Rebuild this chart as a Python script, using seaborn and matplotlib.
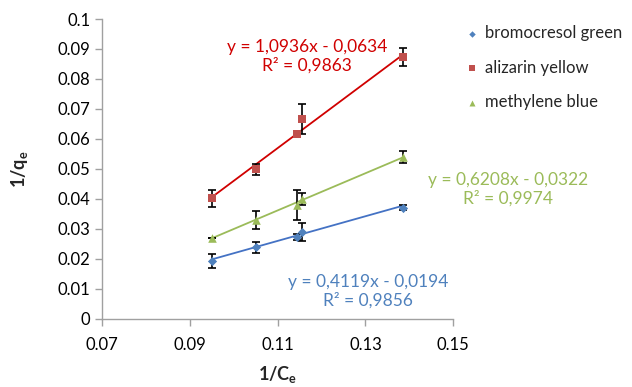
import numpy as np
import pandas as pd
import matplotlib
matplotlib.use("Agg")
import matplotlib.pyplot as plt
import seaborn as sns

# ---- data ----
series = ["bromocresol green", "alizarin yellow", "methylene blue"]
x_vals = [0.095, 0.105, 0.1143, 0.1155, 0.1386]
y_bromocresol = [0.0192, 0.0238, 0.0272, 0.0289, 0.0370]
y_alizarin = [0.0401, 0.0498, 0.0615, 0.0665, 0.0874]
y_methylene = [0.0269, 0.0328, 0.0379, 0.0398, 0.0540]
err_bromocresol = [0.0023, 0.0019, 0.0010, 0.0030, 0.0008]
err_alizarin = [0.0029, 0.0019, 0.0008, 0.0050, 0.0030]
err_methylene = [0.0, 0.0030, 0.0050, 0.0020, 0.0020]
slopes = [0.4119, 1.0936, 0.6208]
intercepts = [-0.0194, -0.0634, -0.0322]
eq_texts = ["y = 0,4119x - 0,0194\nR² = 0,9856",
            "y = 1,0936x - 0,0634\nR² = 0,9863",
            "y = 0,6208x - 0,0322\nR² = 0,9974"]
x_ticks = [0.07, 0.09, 0.11, 0.13, 0.15]
y_ticks = [0, 0.01, 0.02, 0.03, 0.04, 0.05, 0.06, 0.07, 0.08, 0.09, 0.1]

marker_colors = ["#4F81BD", "#C0504D", "#9BBB59"]
line_colors = ["#4472C4", "#D00000", "#9BBB59"]
text_colors = ["#4F81BD", "#D00000", "#9BBB59"]
markers = ["D", "s", "^"]
msizes = [22, 40, 38]

sns.set_style("white")
plt.rcParams['font.family'] = ['Lato', 'DejaVu Sans']

df = pd.DataFrame({
    "x": x_vals * 3,
    "y": y_bromocresol + y_alizarin + y_methylene,
    "err": err_bromocresol + err_alizarin + err_methylene,
    "series": sum([[s] * len(x_vals) for s in series], []),
})

fig = plt.figure(figsize=(6.32, 3.87), dpi=100)
ax = fig.add_axes([102 / 632, 1 - 318.5 / 387, (453.3 - 102) / 632, (318.5 - 19) / 387])

# trendlines
for i, s in enumerate(series):
    xs = np.array([min(x_vals), max(x_vals)])
    line_df = pd.DataFrame({"x": xs, "y": slopes[i] * xs + intercepts[i]})
    sns.lineplot(data=line_df, x="x", y="y", ax=ax, color=line_colors[i], lw=1.3, zorder=2, legend=False)

# error bars
for i, s in enumerate(series):
    sub = df[df.series == s]
    ax.errorbar(sub.x, sub.y, yerr=sub.err, fmt="none", ecolor="black", elinewidth=1.2,
                capsize=3, capthick=1.2, zorder=3)

# markers
for i, s in enumerate(series):
    sub = df[df.series == s]
    sns.scatterplot(data=sub, x="x", y="y", ax=ax, marker=markers[i], s=msizes[i],
                    color=marker_colors[i], edgecolor=marker_colors[i], linewidth=0, zorder=4,
                    label=s)

ax.set_xlim(0.07, 0.15)
ax.set_ylim(0, 0.1)
ax.set_xticks(x_ticks)
ax.set_xticklabels([f"{t:g}" for t in x_ticks])
ax.set_yticks(y_ticks)
ax.set_yticklabels([f"{t:g}" for t in y_ticks])
for sp in ["top", "right"]:
    ax.spines[sp].set_visible(False)
for sp in ["left", "bottom"]:
    ax.spines[sp].set_color("#A0A0A0")
    ax.spines[sp].set_linewidth(1.0)
ax.tick_params(axis="both", which="both", direction="out", length=5, width=1.0,
               color="#A0A0A0", labelsize=12, labelcolor="black", left=True, bottom=True)
ax.tick_params(axis="x", pad=8)
ax.set_xlabel("1/C$_\\mathregular{e}$", fontsize=13, fontweight="bold", labelpad=8)
ax.set_ylabel("1/q$_\\mathregular{e}$", fontsize=13, fontweight="bold", labelpad=20)

# equations
eq_pos = [(368, 291), (307, 56), (508, 189)]
for i in range(3):
    fig.text(eq_pos[i][0] / 632, 1 - eq_pos[i][1] / 387, eq_texts[i], color=text_colors[i],
             fontsize=12.5, ha="center", va="center", linespacing=1.15)

leg = ax.legend(loc="upper left", bbox_to_anchor=(459 / 632, 1 - 17 / 387),
                bbox_transform=fig.transFigure, frameon=False, fontsize=12,
                labelspacing=1.1, handletextpad=0.45, handlelength=0.6, borderpad=0,
                markerscale=0.7)

fig.savefig("out.png", dpi=100)
